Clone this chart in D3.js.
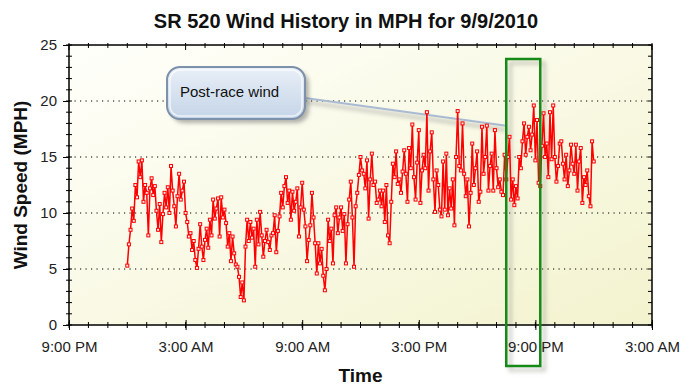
<!DOCTYPE html>
<html>
<head>
<meta charset="utf-8">
<script src="https://cdn.jsdelivr.net/npm/d3@7/dist/d3.min.js"></script>
<style>
body { margin: 0; background: #fff; }
svg text { font-family: "Liberation Sans", Arial, sans-serif; }
</style>
</head>
<body>
<div id="plot"></div>
<script>
// readings every 5 minutes, starting at midnight on 9/9/2010
var startTime = new Date(2010, 8, 9, 0, 0);
var stepMinutes = 5;
var windSpeed = [
  5.3, 7.2, 8.5, 10.4, 9.3, 12.5, 11.4, 14.6, 13.2, 14.7, 11.0, 12.5,   // 12 AM
  11.8, 8.0, 12.2, 13.1, 11.6, 12.4, 10.2, 8.5, 10.8, 7.4, 9.9, 11.8,   // 1 AM
  10.5, 12.3, 10.0, 14.2, 12.0, 10.6, 8.8, 11.5, 13.5, 11.2, 12.0, 12.8, // 2 AM
  10.0, 9.2, 7.9, 8.2, 6.7, 7.5, 5.8, 5.1, 6.8, 9.0, 7.0, 5.8,          // 3 AM
  7.6, 8.6, 6.9, 9.4, 8.0, 11.2, 9.5, 10.4, 11.3, 7.9, 11.4, 9.6,       // 4 AM
  10.3, 9.1, 7.0, 8.2, 5.7, 7.9, 6.4, 5.4, 5.2, 4.3, 2.5, 3.8,          // 5 AM
  2.2, 7.0, 9.4, 7.5, 9.2, 7.8, 8.6, 5.2, 9.4, 7.2, 10.1, 8.0,          // 6 AM
  6.1, 7.5, 8.5, 7.4, 6.7, 8.0, 8.2, 9.8, 6.5, 8.4, 9.7, 11.8,          // 7 AM
  10.5, 12.4, 13.2, 10.9, 12.0, 9.4, 11.9, 10.2, 11.0, 12.2, 7.9, 10.5, // 8 AM
  12.7, 10.3, 8.8, 5.7, 7.6, 8.9, 11.8, 9.6, 7.3, 4.6, 7.3, 5.5,        // 9 AM
  6.8, 4.4, 3.1, 5.0, 9.4, 7.5, 8.6, 5.5, 9.8, 10.5, 8.2, 9.6,          // 10 AM
  10.5, 8.4, 9.9, 5.5, 9.0, 11.2, 12.8, 9.6, 5.2, 10.6, 11.8, 13.4,     // 11 AM
  15.0, 13.8, 13.5, 12.2, 14.7, 9.5, 13.0, 15.3, 12.5, 12.8, 10.9, 11.2, // 12 PM
  12.0, 10.6, 12.0, 9.2, 12.5, 8.0, 7.3, 11.0, 14.4, 13.2, 15.5, 12.6,  // 1 PM
  13.0, 11.8, 13.7, 15.6, 13.5, 11.0, 15.8, 14.0, 17.9, 13.2, 11.2, 14.5, // 2 PM
  17.4, 10.9, 13.8, 15.2, 14.0, 19.0, 12.0, 15.5, 17.2, 13.0, 10.1, 13.8, // 3 PM
  12.5, 10.3, 9.7, 14.6, 10.3, 15.3, 9.8, 12.2, 10.4, 13.0, 8.9, 15.0,  // 4 PM
  19.1, 14.2, 13.8, 18.0, 13.5, 11.5, 13.0, 8.8, 11.8, 16.2, 12.5, 14.0, // 5 PM
  15.5, 11.0, 11.9, 17.7, 13.5, 15.0, 17.8, 12.0, 14.2, 15.3, 12.0, 17.4, // 6 PM
  14.0, 12.3, 13.0, 11.9, 11.6, 15.2, 13.0, 15.0, 16.8, 11.2, 13.0, 10.7, // 7 PM
  12.4, 11.3, 15.0, 14.0, 16.4, 18.0, 15.2, 16.8, 17.7, 15.6, 17.0, 19.6, // 8 PM
  14.7, 18.3, 12.7, 12.4, 16.0, 18.9, 15.0, 16.2, 13.2, 19.0, 14.8, 19.6, // 9 PM
  15.0, 12.8, 14.2, 16.2, 16.4, 14.4, 13.0, 15.2, 12.4, 13.8, 16.1, 14.4, // 10 PM
  13.5, 16.1, 12.0, 14.6, 15.8, 10.9, 13.2, 12.5, 13.8, 11.5, 10.6, 16.4, // 11 PM
  14.6
];
var yTicks = [0, 5, 10, 15, 20, 25];
var xStart = new Date(2010, 8, 8, 21, 0);
var xEnd = new Date(2010, 8, 10, 3, 0);
var calloutText = "Post-race wind";
var raceWindow = [new Date(2010, 8, 9, 19, 30), new Date(2010, 8, 9, 21, 15)];
var calloutTarget = 17.8;

var width = 687, height = 387;
var plotLeft = 69, plotRight = 652, plotTop = 45, plotBottom = 325;

var data = windSpeed.map(function(v, i) {
    return { time: new Date(startTime.getTime() + i * stepMinutes * 60000), value: v };
});

var svg = d3.select("#plot").append("svg")
    .attr("width", width)
    .attr("height", height);

var defs = svg.append("defs");
var bg = defs.append("linearGradient").attr("id", "bg")
    .attr("x1", 0).attr("y1", 0).attr("x2", 1).attr("y2", 1);
bg.append("stop").attr("offset", "0%").attr("stop-color", "#fffffb");
bg.append("stop").attr("offset", "100%").attr("stop-color", "#f3f3cf");

var boxFill = defs.append("linearGradient").attr("id", "boxfill")
    .attr("x1", 0).attr("y1", 0).attr("x2", 0).attr("y2", 1);
boxFill.append("stop").attr("offset", "0%").attr("stop-color", "#e9f0f8");
boxFill.append("stop").attr("offset", "100%").attr("stop-color", "#c4d4e7");

var shadow = defs.append("filter").attr("id", "shadow")
    .attr("x", "-20%").attr("y", "-20%").attr("width", "140%").attr("height", "140%");
shadow.append("feGaussianBlur").attr("stdDeviation", 2);

var x = d3.scaleTime().domain([xStart, xEnd]).range([plotLeft, plotRight]);
var y = d3.scaleLinear().domain([0, 25]).range([plotBottom, plotTop]);

// plot background
svg.append("rect")
    .attr("x", plotLeft).attr("y", plotTop)
    .attr("width", plotRight - plotLeft).attr("height", plotBottom - plotTop)
    .attr("fill", "url(#bg)");

// dotted grid
svg.selectAll(".grid")
    .data(yTicks.filter(function(d) { return d > 0 && d < 25; }))
    .enter().append("line")
    .attr("class", "grid")
    .attr("x1", plotLeft).attr("x2", plotRight)
    .attr("y1", function(d) { return y(d); })
    .attr("y2", function(d) { return y(d); })
    .attr("stroke", "#000")
    .attr("stroke-width", 1.2)
    .attr("stroke-dasharray", "1.2,4.3");

// green window shadow + callout connector (behind the data)
var gx0 = x(raceWindow[0]), gx1 = x(raceWindow[1]);
svg.append("rect")
    .attr("x", gx0 + 4).attr("y", 63)
    .attr("width", gx1 - gx0).attr("height", 307)
    .attr("fill", "none")
    .attr("stroke", "#9a9a90")
    .attr("stroke-width", 3)
    .attr("opacity", 0.55)
    .attr("filter", "url(#shadow)");

svg.append("line")
    .attr("x1", 305).attr("y1", 102)
    .attr("x2", gx0).attr("y2", y(calloutTarget) + 4)
    .attr("stroke", "#888")
    .attr("stroke-width", 3)
    .attr("opacity", 0.5)
    .attr("filter", "url(#shadow)");
svg.append("line")
    .attr("x1", 305).attr("y1", 98)
    .attr("x2", gx0).attr("y2", y(calloutTarget))
    .attr("stroke", "#a9bbd3")
    .attr("stroke-width", 2);

// wind line
var line = d3.line()
    .x(function(d) { return x(d.time); })
    .y(function(d) { return y(d.value); });

svg.append("path")
    .datum(data)
    .attr("d", line)
    .attr("fill", "none")
    .attr("stroke", "#ff0000")
    .attr("stroke-width", 1.5)
    .attr("stroke-linejoin", "round");

svg.selectAll(".pt")
    .data(data)
    .enter().append("rect")
    .attr("class", "pt")
    .attr("x", function(d) { return x(d.time) - 1.5; })
    .attr("y", function(d) { return y(d.value) - 1.5; })
    .attr("width", 3).attr("height", 3)
    .attr("fill", "#ffe8e8")
    .attr("stroke", "#ff0000")
    .attr("stroke-width", 1);

// frame
svg.append("rect")
    .attr("x", plotLeft).attr("y", plotTop)
    .attr("width", plotRight - plotLeft).attr("height", plotBottom - plotTop)
    .attr("fill", "none")
    .attr("stroke", "#000")
    .attr("stroke-width", 1.5);

// y axis
var yAxis = d3.axisLeft(y).tickValues(yTicks).tickSize(6).tickPadding(6);
var gy = svg.append("g")
    .attr("transform", "translate(" + plotLeft + ",0)")
    .call(yAxis);
gy.select(".domain").remove();
gy.selectAll("text").attr("font-size", 15).attr("fill", "#222");

svg.selectAll(".yminor")
    .data(d3.range(0, 26))
    .enter().append("line")
    .attr("class", "yminor")
    .attr("x1", plotLeft - 3).attr("x2", plotLeft + 3)
    .attr("y1", function(d) { return y(d); })
    .attr("y2", function(d) { return y(d); })
    .attr("stroke", "#000");

svg.selectAll(".yright")
    .data(d3.range(0, 26))
    .enter().append("line")
    .attr("class", "yright")
    .attr("x1", plotRight - 4).attr("x2", plotRight)
    .attr("y1", function(d) { return y(d); })
    .attr("y2", function(d) { return y(d); })
    .attr("stroke", "#000");

// x axis: majors every 6 hours from 9 PM, minors every hour
var hours = d3.timeHour.range(xStart, new Date(xEnd.getTime() + 1));
var majorTimes = hours.filter(function(d, i) { return i % 6 === 0; });

var xAxis = d3.axisBottom(x)
    .tickValues(majorTimes)
    .tickFormat(d3.timeFormat("%-I:%M %p"))
    .tickSize(5)
    .tickPadding(11);
var gx = svg.append("g")
    .attr("transform", "translate(0," + plotBottom + ")")
    .call(xAxis);
gx.select(".domain").remove();
gx.selectAll("line").attr("y1", -5);
gx.selectAll("text").attr("font-size", 15).attr("fill", "#222");

svg.selectAll(".xminor")
    .data(hours)
    .enter().append("line")
    .attr("class", "xminor")
    .attr("x1", function(d) { return x(d); })
    .attr("x2", function(d) { return x(d); })
    .attr("y1", plotBottom - 3).attr("y2", plotBottom + 3)
    .attr("stroke", "#000");

svg.selectAll(".xtop")
    .data(hours)
    .enter().append("line")
    .attr("class", "xtop")
    .attr("x1", function(d) { return x(d); })
    .attr("x2", function(d) { return x(d); })
    .attr("y1", plotTop - 2)
    .attr("y2", function(d, i) { return i % 6 === 0 ? plotTop + 5 : plotTop + 3; })
    .attr("stroke", "#000");

// green window
svg.append("rect")
    .attr("x", gx0).attr("y", 59)
    .attr("width", gx1 - gx0).attr("height", 307)
    .attr("fill", "none")
    .attr("stroke", "#168a16")
    .attr("stroke-width", 2.5);

// callout box
svg.append("rect")
    .attr("x", 171).attr("y", 71)
    .attr("width", 138).attr("height", 52)
    .attr("rx", 13)
    .attr("fill", "#666")
    .attr("opacity", 0.5)
    .attr("filter", "url(#shadow)");
svg.append("rect")
    .attr("x", 167).attr("y", 67)
    .attr("width", 138).attr("height", 52)
    .attr("rx", 13)
    .attr("fill", "url(#boxfill)")
    .attr("stroke", "#7d91aa")
    .attr("stroke-width", 2);
svg.append("rect")
    .attr("x", 170).attr("y", 70)
    .attr("width", 132).attr("height", 46)
    .attr("rx", 10)
    .attr("fill", "none")
    .attr("stroke", "#fff")
    .attr("stroke-opacity", 0.7)
    .attr("stroke-width", 1.5);
svg.append("text")
    .attr("x", 180).attr("y", 97)
    .attr("font-size", 15)
    .attr("fill", "#111")
    .text(calloutText);

// titles
svg.append("text")
    .attr("x", 346).attr("y", 28)
    .attr("text-anchor", "middle")
    .attr("font-size", 20)
    .attr("font-weight", "bold")
    .attr("fill", "#111")
    .text("SR 520 Wind History in MPH for 9/9/2010");

svg.append("text")
    .attr("x", (plotLeft + plotRight) / 2).attr("y", 382)
    .attr("text-anchor", "middle")
    .attr("font-size", 19)
    .attr("font-weight", "bold")
    .attr("fill", "#111")
    .text("Time");

svg.append("text")
    .attr("transform", "translate(27," + (plotTop + plotBottom) / 2 + ") rotate(-90)")
    .attr("text-anchor", "middle")
    .attr("font-size", 19)
    .attr("font-weight", "bold")
    .attr("fill", "#111")
    .text("Wind Speed (MPH)");
</script>
</body>
</html>
